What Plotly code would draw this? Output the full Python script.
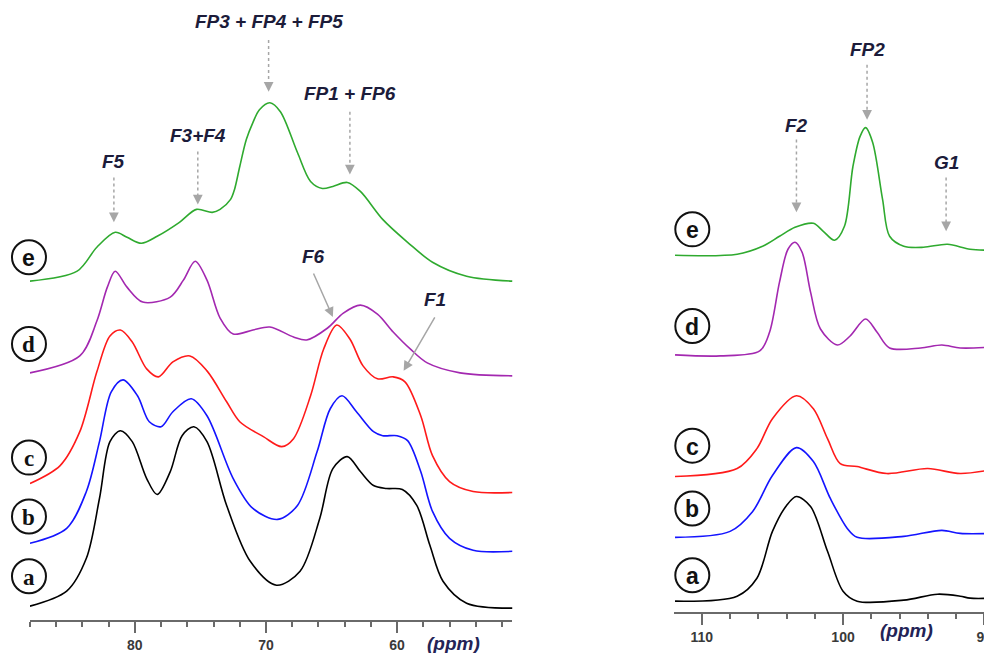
import plotly.graph_objects as go

# ---------------- Left panel (51-88 ppm region) ----------------
left_ppm_a = [88.0, 85.2, 83.7, 82.7, 81.9, 81.1, 80.2, 79.1, 78.3, 77.3, 76.4, 75.5, 74.5, 73.0, 71.2,
              69.2, 67.4, 65.9, 64.9, 63.8, 62.8, 61.8, 60.8, 59.6, 58.5, 57.5, 56.5, 54.7, 51.2]
left_int_a = [2, 17, 50, 110, 167, 178, 167, 130, 114, 137, 173, 182, 167, 103, 47,
              23, 37, 90, 140, 152, 137, 123, 120, 119, 103, 63, 27, 5, 0]

left_ppm_b = [88.0, 85.2, 83.7, 82.7, 81.8, 80.9, 79.8, 78.9, 78.0, 77.1, 75.7, 74.5, 72.5, 71.0, 69.1,
              67.6, 66.1, 65.1, 64.2, 63.1, 61.8, 61.1, 60.0, 59.2, 58.2, 57.3, 56.0, 54.2, 51.2]
left_int_b = [8, 23, 60, 110, 160, 172, 156, 130, 125, 140, 153, 136, 73, 43, 32,
              46, 100, 143, 156, 140, 120, 116, 116, 111, 80, 40, 13, 1, 0]

left_ppm_c = [88.0, 85.7, 84.2, 82.9, 81.9, 81.1, 80.2, 79.1, 78.2, 77.1, 75.8, 74.5, 73.0, 72.0, 70.2,
              68.8, 67.9, 66.6, 65.6, 64.6, 63.6, 62.6, 61.5, 60.3, 59.4, 58.2, 57.3, 56.0, 54.2, 51.2]
left_int_c = [9, 27, 61, 121, 157, 163, 151, 124, 116, 131, 137, 122, 91, 71, 56,
              46, 54, 97, 144, 168, 154, 127, 114, 116, 111, 77, 37, 11, 1, 0]

left_ppm_d = [88.0, 84.2, 82.9, 82.1, 81.5, 80.6, 79.4, 77.3, 76.3, 75.4, 74.5, 73.5, 72.5, 71.0, 69.7,
              67.9, 66.9, 65.3, 64.1, 62.8, 61.5, 60.3, 59.0, 57.7, 55.2, 51.2]
left_int_d = [3, 20, 55, 89, 105, 89, 74, 79, 96, 115, 96, 58, 42, 46, 49,
              39, 36, 48, 63, 71, 62, 44, 27, 13, 3, 0]

left_ppm_e = [88.0, 84.4, 82.9, 81.5, 80.6, 79.5, 78.3, 76.6, 75.3, 74.1, 73.5, 72.7, 72.4, 72.0, 71.5,
              71.0, 70.5, 69.7, 68.9, 67.6, 66.6, 65.7, 64.9, 63.8, 62.8, 61.1, 59.2, 57.3, 54.7, 51.2]
left_int_e = [0, 10, 34, 49, 44, 38, 45, 59, 72, 69, 72, 82, 92, 115, 142,
              159, 172, 179, 170, 129, 100, 93, 95, 99, 90, 62, 39, 19, 5, 0]

# ---------------- Right panel (89-112 ppm region) ----------------
right_ppm_a = [111.9, 107.5, 106.1, 105.0, 104.0, 103.3, 102.3, 101.1, 100.0, 99.0, 95.7, 93.3, 91.7, 91.0, 89.4]
right_int_a = [0, 5, 23, 70, 96, 105, 95, 50, 10, 0, 1, 7, 5, 3, 3]

right_ppm_b = [111.9, 108.0, 106.4, 105.0, 103.3, 102.1, 100.9, 99.7, 99.0, 95.7, 93.0, 91.7, 89.4]
right_int_b = [0, 6, 26, 62, 90, 76, 39, 9, 0, 1, 7, 4, 4]

right_ppm_c = [111.9, 107.5, 106.1, 105.0, 103.3, 102.1, 101.1, 100.2, 99.0, 96.9, 94.0, 91.7, 89.4]
right_int_c = [0, 8, 28, 58, 81, 68, 38, 13, 10, 3, 8, 3, 7]

right_ppm_d = [111.9, 108.7, 105.9, 105.2, 104.5, 103.9, 103.4, 102.9, 102.3, 101.6, 100.4, 99.5, 98.4,
               97.6, 96.7, 94.5, 93.0, 91.7, 89.4]
right_int_d = [0, -1, 4, 23, 73, 106, 113, 103, 63, 26, 10, 19, 36, 23, 7, 7, 10, 7, 8]

right_ppm_e = [111.9, 107.5, 105.7, 104.5, 103.4, 102.1, 101.4, 100.6, 99.9, 99.3, 98.8, 98.4, 97.9,
               97.2, 96.7, 95.7, 94.3, 92.6, 91.0, 89.4]
right_int_e = [0, 1, 9, 19, 28, 32, 24, 15, 29, 89, 119, 128, 113, 56, 19, 9, 8, 11, 6, 5]

sample_labels = ["a", "b", "c", "d", "e"]
left_offsets = [12, 69, 128, 245, 340]
right_offsets = [11, 75, 136, 258, 358]
colors = ["#000000", "#1414ff", "#ff1a1a", "#a328b0", "#2faa2f"]

left_series = [(left_ppm_a, left_int_a), (left_ppm_b, left_int_b), (left_ppm_c, left_int_c),
               (left_ppm_d, left_int_d), (left_ppm_e, left_int_e)]
right_series = [(right_ppm_a, right_int_a), (right_ppm_b, right_int_b), (right_ppm_c, right_int_c),
                (right_ppm_d, right_int_d), (right_ppm_e, right_int_e)]

# page has an 8px body margin: figure is sized so it exactly fills the window
W, H, PAD = 984, 645, 8


def paper_x(sx):
    return (sx - PAD) / W


def paper_y(sy):
    return 1 - (sy - PAD) / H


fig = go.Figure()

for i, (px, iy) in enumerate(left_series):
    fig.add_trace(go.Scatter(x=px, y=[v + left_offsets[i] for v in iy], mode="lines",
                             line=dict(color=colors[i], width=1.6, shape="spline", smoothing=0.9),
                             xaxis="x", yaxis="y", showlegend=False, hoverinfo="skip"))
for i, (px, iy) in enumerate(right_series):
    fig.add_trace(go.Scatter(x=px, y=[v + right_offsets[i] for v in iy], mode="lines",
                             line=dict(color=colors[i], width=1.6, shape="spline", smoothing=0.9),
                             xaxis="x2", yaxis="y2", showlegend=False, hoverinfo="skip"))

annotations = []
shapes = []

# circled sample labels (layout positions, screen pixels)
left_circle_sx = 29
right_circle_sx = 693
left_circle_sy = [578, 518, 459, 345, 258]
right_circle_sy = [577, 510, 447, 327, 230]
left_fonts = ["Liberation Serif"] * 4 + ["Liberation Sans"]
for i, lab in enumerate(sample_labels):
    for sx, sy, fam in ((left_circle_sx, left_circle_sy[i], left_fonts[i]),
                        (right_circle_sx, right_circle_sy[i], "Liberation Sans")):
        shapes.append(dict(type="circle", xref="paper", yref="paper", xsizemode="pixel", ysizemode="pixel",
                           xanchor=paper_x(sx), yanchor=paper_y(sy), x0=-17, x1=17, y0=-17, y1=17,
                           line=dict(color="#111", width=2)))
        annotations.append(dict(text=lab, x=paper_x(sx), y=paper_y(sy + 1), xref="paper", yref="paper",
                                showarrow=False, xanchor="center", yanchor="middle",
                                font=dict(family=fam, size=23, color="#111", weight="bold")))

label_font = dict(family="Liberation Sans", size=19, color="#1c1c3a", weight="bold", style="italic")
arrow_col = "#a6a6a6"

# (text, x ppm, text y, arrow top y, arrow tip y, axis suffix)
vertical_labels = [
    ("FP3 + FP4 + FP5", 69.8, 600, 582, 530, ""),
    ("FP1 + FP6", 63.6, 528, 510, 447, ""),
    ("F3+F4", 75.2, 486, 470, 417, ""),
    ("F5", 81.6, 460, 444, 399, ""),
    ("FP2", 98.3, 564, 549, 494, "2"),
    ("F2", 103.3, 488, 474, 401, "2"),
    ("G1", 92.7, 451, 436, 382, "2"),
]
for text, xp, ty, top, tip, sfx in vertical_labels:
    annotations.append(dict(text=text, x=xp, y=ty, xref="x" + sfx, yref="y" + sfx,
                            showarrow=False, font=label_font, xanchor="center", yanchor="middle"))
    shapes.append(dict(type="line", xref="x" + sfx, yref="y" + sfx, x0=xp, x1=xp, y0=top, y1=tip + 8,
                       line=dict(color=arrow_col, width=1.5, dash="dot")))
    annotations.append(dict(text="", x=xp, y=tip, xref="x" + sfx, yref="y" + sfx, showarrow=True,
                            ax=0, ay=-11, arrowhead=2, arrowsize=1.3, arrowwidth=1.5,
                            arrowcolor=arrow_col, standoff=0))

# diagonal arrows
annotations.append(dict(text="F6", x=66.4, y=365, xref="x", yref="y", showarrow=False, font=label_font))
annotations.append(dict(text="", x=64.9, y=304, xref="x", yref="y", showarrow=True, ax=-20, ay=-45,
                        arrowhead=2, arrowsize=1.3, arrowwidth=1.5, arrowcolor=arrow_col, standoff=0))
annotations.append(dict(text="F1", x=57.1, y=322, xref="x", yref="y", showarrow=False, font=label_font))
annotations.append(dict(text="", x=59.5, y=250, xref="x", yref="y", showarrow=True, ax=32, ay=-55,
                        arrowhead=2, arrowsize=1.3, arrowwidth=1.5, arrowcolor=arrow_col, standoff=0))

ppm_font = dict(family="Liberation Sans", size=19, color="#232356", weight="bold", style="italic")
annotations.append(dict(text="(ppm)", x=55.7, y=paper_y(645), xref="x", yref="paper", showarrow=False,
                        font=ppm_font, yanchor="middle"))
annotations.append(dict(text="(ppm)", x=95.5, y=paper_y(632), xref="x2", yref="paper", showarrow=False,
                        font=ppm_font, yanchor="middle"))

axis_common = dict(showline=True, linecolor="#6a6a6a", linewidth=2, ticks="outside", ticklen=11,
                   tickwidth=1.5, tickcolor="#6a6a6a", dtick=10, tick0=0, showgrid=False, zeroline=False,
                   tickfont=dict(family="Liberation Sans", size=14, color="#3a3a3a", weight="bold"),
                   minor=dict(dtick=2, tick0=0, ticklen=5, tickwidth=1.5, tickcolor="#6a6a6a",
                              ticks="outside", showgrid=False),
                   ticklabeloverflow="allow", fixedrange=True)

fig.update_layout(
    width=W, height=H, margin=dict(l=0, r=0, t=0, b=0),
    paper_bgcolor="white", plot_bgcolor="white",
    xaxis=dict(domain=[paper_x(30), paper_x(513)], range=[88, 51.2], anchor="y", **axis_common),
    yaxis=dict(domain=[paper_y(622), 1], range=[0, 614], visible=False, fixedrange=True),
    xaxis2=dict(domain=[paper_x(675), 1], range=[111.95, 89.52], anchor="y2", **axis_common),
    yaxis2=dict(domain=[paper_y(614), 1], range=[0, 606], visible=False, anchor="x2", fixedrange=True),
    annotations=annotations, shapes=shapes, showlegend=False,
)

fig.write_html("out.html")
